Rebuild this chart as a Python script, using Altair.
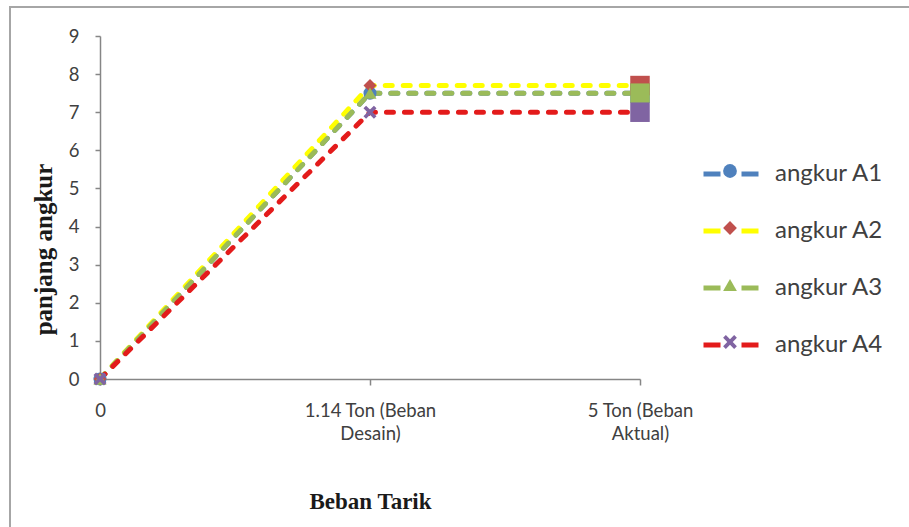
import altair as alt
import pandas as pd

# Load steps on the x axis and anchor length for each anchor series
categories = ["0", "1.14 Ton (Beban Desain)", "5 Ton (Beban Aktual)"]
series = ["angkur A1", "angkur A2", "angkur A3", "angkur A4"]
a1 = [0, 7.5, 7.5]
a2 = [0, 7.7, 7.7]
a3 = [0, 7.5, 7.5]
a4 = [0, 7.0, 7.0]

line_colors = ["#4F81BD", "#FFFF00", "#9BBB59", "#E31B1B"]
marker_colors = ["#4F81BD", "#C0504D", "#9BBB59", "#8064A2"]
# circle, diamond, triangle, thick X
x_path = ("M-1,-0.6L-0.6,-1L0,-0.4L0.6,-1L1,-0.6L0.4,0L1,0.6L0.6,1"
          "L0,0.4L-0.6,1L-1,0.6L-0.4,0Z")
marker_shapes = ["circle", "diamond", "triangle-up", x_path]

rows = []
for name, vals in zip(series, [a1, a2, a3, a4]):
    for i, (cat, v) in enumerate(zip(categories, vals)):
        rows.append({"series": name, "beban": cat, "pos": i, "panjang": v})
df = pd.DataFrame(rows)

# short ids keep the marker legend separate from the line legend
marker_ids = [s.split()[-1] for s in series]

label_font = "Lato"
title_font = "Liberation Serif"

x_enc = alt.X(
    "beban:O",
    sort=categories,
    scale=alt.Scale(type="point", padding=0),
    axis=alt.Axis(
        title="Beban Tarik",
        labelAngle=0,
        labelExpr=(
            "lastindexof(datum.label, ' (') > 0 ? "
            "[substring(datum.label, 0, lastindexof(datum.label, ' ')), "
            "substring(datum.label, lastindexof(datum.label, ' ') + 1)] : datum.label"
        ),
        labelLineHeight=23,
        labelPadding=16,
        tickSize=6,
        titleX=270,
        titleY=122,
        titleBaseline="middle",
        titleFontSize=23,
    ),
)
y_enc = alt.Y(
    "panjang:Q",
    scale=alt.Scale(domain=[0, 9], nice=False),
    axis=alt.Axis(
        title="panjang angkur",
        values=list(range(10)),
        tickSize=5,
        labelPadding=16,
        titleX=-57,
        titleY=213,
        titleAngle=270,
        titleAlign="center",
        titleBaseline="middle",
        titleFontSize=25,
    ),
)

legend_common = dict(
    title=None,
    orient="none",
    direction="vertical",
    padding=0,
    labelFont=label_font,
    labelFontSize=24,
    labelColor="#404040",
)

lines = alt.Chart(df).mark_line(
    strokeWidth=5, strokeDash=[7, 11], strokeCap="round"
).encode(
    x=x_enc,
    y=y_enc,
    stroke=alt.Stroke(
        "series:N",
        scale=alt.Scale(domain=series, range=line_colors),
        legend=alt.Legend(
            symbolType="stroke",
            symbolSize=3025,
            symbolStrokeWidth=5,
            symbolDash=[17, 21],
            labelOffset=14,
            legendX=601,
            legendY=108,
            rowPadding=15,
            **legend_common,
        ),
    ),
    order="pos:Q",
)

marker_legend = alt.Legend(
    symbolSize=190,
    symbolStrokeWidth=0,
    labelOpacity=0,
    legendX=618,
    legendY=123,
    rowPadding=33,
    **legend_common,
)

with_id = "replace(datum.series, 'angkur ', '')"

markers = alt.Chart(df).transform_calculate(anchor=with_id).transform_filter(
    "datum.pos < 2"
).mark_point(
    filled=True, opacity=1, size=170, strokeWidth=0
).encode(
    x=x_enc,
    y=y_enc,
    fill=alt.Fill("anchor:N", scale=alt.Scale(domain=marker_ids, range=marker_colors),
                  legend=marker_legend),
    shape=alt.Shape("anchor:N", scale=alt.Scale(domain=marker_ids, range=marker_shapes),
                    legend=marker_legend),
)

end_markers = alt.Chart(df).transform_calculate(anchor=with_id).transform_filter(
    "datum.pos == 2"
).mark_point(
    filled=True, opacity=1, shape="square", size=380, strokeWidth=0
).encode(
    x=x_enc,
    y=y_enc,
    fill=alt.Fill("anchor:N", legend=None),
)

# thin grey frame around the whole chart area
frame = alt.Chart(pd.DataFrame({"k": [0]})).mark_rect(
    fill=None, stroke="#A6A6A6", strokeWidth=2
).encode(
    x=alt.value(-90), x2=alt.value(830),
    y=alt.value(-29), y2=alt.value(510),
)

chart = alt.layer(frame, lines, markers, end_markers).properties(
    width=540,
    height=343,
    autosize=alt.AutoSizeParams(type="none"),
    padding={"left": 100, "top": 36, "right": 269, "bottom": 148},
    background="white",
).configure_view(
    stroke=None
).configure_axis(
    grid=False,
    domainColor="#868686",
    domainWidth=1.5,
    tickColor="#868686",
    tickWidth=1.5,
    labelFont=label_font,
    labelFontSize=18.5,
    labelColor="#404040",
    titleFont=title_font,
    titleFontWeight="bold",
    titleColor="#1a1a1a",
)

chart.save("out.html", embed_options={"renderer": "svg", "actions": False})
